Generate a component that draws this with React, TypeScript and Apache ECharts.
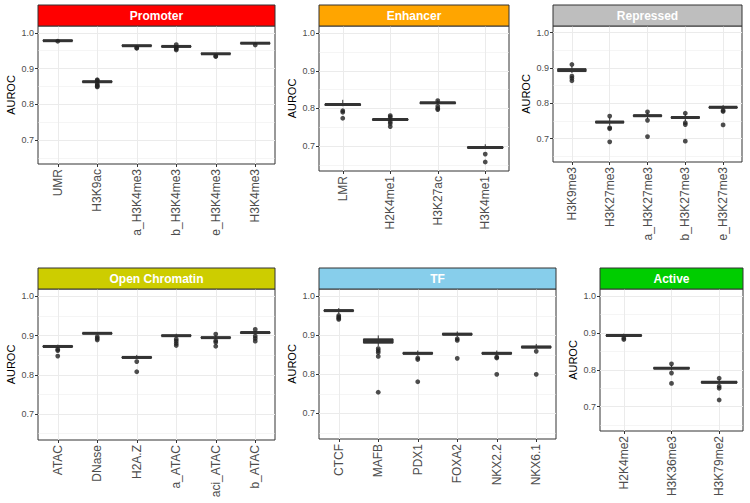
import React, { useEffect, useRef } from "react";
import * as echarts from "echarts";

// ---------- data ----------
const yTicks = [0.7, 0.8, 0.9, 1.0];
const yMinorGrid = [0.65, 0.75, 0.85, 0.95];
const yMin = 0.634;
const yMax = 1.019;

// boxes: [lower whisker, Q1, median, Q3, upper whisker]
const promoterCats = ["UMR", "H3K9ac", "a_H3K4me3", "b_H3K4me3", "e_H3K4me3", "H3K4me3"];
const promoterBoxes = [
  [0.977, 0.977, 0.978, 0.979, 0.979],
  [0.861, 0.862, 0.8635, 0.865, 0.866],
  [0.963, 0.963, 0.964, 0.965, 0.965],
  [0.961, 0.961, 0.962, 0.963, 0.963],
  [0.940, 0.941, 0.9415, 0.942, 0.943],
  [0.970, 0.970, 0.971, 0.972, 0.972],
];
const promoterOutliers = [
  [0.9765],
  [0.869, 0.867, 0.858, 0.854, 0.851, 0.849],
  [0.957, 0.958],
  [0.967, 0.958, 0.955, 0.952],
  [0.934, 0.935],
  [0.966],
];

const enhancerCats = ["LMR", "H2K4me1", "H3K27ac", "H3K4me1"];
const enhancerBoxes = [
  [0.806, 0.808, 0.8105, 0.812, 0.823],
  [0.768, 0.769, 0.771, 0.772, 0.774],
  [0.811, 0.813, 0.815, 0.816, 0.823],
  [0.694, 0.695, 0.6965, 0.698, 0.705],
];
const enhancerOutliers = [
  [0.794, 0.79, 0.774],
  [0.781, 0.777, 0.765, 0.76, 0.752],
  [0.821, 0.806, 0.8, 0.797],
  [0.679, 0.658],
];

const repressedCats = ["H3K9me3", "H3K27me3", "a_H3K27me3", "b_H3K27me3", "e_H3K27me3"];
const repressedBoxes = [
  [0.886, 0.89, 0.894, 0.898, 0.905],
  [0.738, 0.745, 0.747, 0.749, 0.76],
  [0.756, 0.763, 0.765, 0.767, 0.774],
  [0.75, 0.758, 0.76, 0.762, 0.77],
  [0.785, 0.787, 0.789, 0.79, 0.795],
];
const repressedOutliers = [
  [0.91, 0.877, 0.871, 0.864],
  [0.764, 0.731, 0.728, 0.691],
  [0.776, 0.752, 0.706],
  [0.772, 0.745, 0.74, 0.693],
  [0.78, 0.777, 0.739],
];

const openCats = ["ATAC", "DNase", "H2A.Z", "a_ATAC", "aci_ATAC", "b_ATAC"];
const openBoxes = [
  [0.868, 0.871, 0.8725, 0.874, 0.877],
  [0.903, 0.905, 0.906, 0.907, 0.909],
  [0.84, 0.843, 0.8445, 0.846, 0.851],
  [0.896, 0.899, 0.9, 0.901, 0.905],
  [0.89, 0.894, 0.895, 0.896, 0.901],
  [0.903, 0.906, 0.908, 0.909, 0.912],
];
const openOutliers = [
  [0.865, 0.862, 0.848],
  [0.897, 0.893, 0.889],
  [0.834, 0.808],
  [0.891, 0.886, 0.88, 0.875],
  [0.904, 0.887, 0.883, 0.873],
  [0.916, 0.899, 0.893, 0.886],
];

const tfCats = ["CTCF", "MAFB", "PDX1", "FOXA2", "NKX2.2", "NKX6.1"];
const tfBoxes = [
  [0.956, 0.962, 0.9635, 0.965, 0.97],
  [0.872, 0.88, 0.885, 0.891, 0.9],
  [0.848, 0.852, 0.854, 0.856, 0.861],
  [0.896, 0.901, 0.903, 0.905, 0.91],
  [0.848, 0.852, 0.854, 0.856, 0.861],
  [0.865, 0.868, 0.87, 0.872, 0.878],
];
const tfOutliers = [
  [0.951, 0.947, 0.944, 0.941],
  [0.866, 0.861, 0.856, 0.846, 0.754],
  [0.842, 0.838, 0.781],
  [0.891, 0.887, 0.841],
  [0.844, 0.842, 0.8],
  [0.859, 0.8],
];

const activeCats = ["H2K4me2", "H3K36me3", "H3K79me2"];
const activeBoxes = [
  [0.888, 0.892, 0.893, 0.894, 0.898],
  [0.798, 0.803, 0.804, 0.806, 0.812],
  [0.76, 0.764, 0.766, 0.768, 0.775],
];
const activeOutliers = [
  [0.886, 0.882],
  [0.816, 0.791, 0.763],
  [0.777, 0.755, 0.75, 0.718],
];

const panelTitles = ["Promoter", "Enhancer", "Repressed", "Open Chromatin", "TF", "Active"];
const panelCats = [promoterCats, enhancerCats, repressedCats, openCats, tfCats, activeCats];
const panelBoxes = [promoterBoxes, enhancerBoxes, repressedBoxes, openBoxes, tfBoxes, activeBoxes];
const panelOutliers = [promoterOutliers, enhancerOutliers, repressedOutliers, openOutliers, tfOutliers, activeOutliers];

// ---------- styling / layout ----------
const stripColors = ["#FF0000", "#FFA500", "#BEBEBE", "#CDCD00", "#87CEEB", "#00CD00"];
const layouts = [
  { left: 38, top: 26, width: 237, height: 138, stripTop: 5 },
  { left: 319, top: 26, width: 190, height: 145, stripTop: 5 },
  { left: 553, top: 26, width: 189, height: 136, stripTop: 5 },
  { left: 38, top: 289, width: 237, height: 151, stripTop: 268 },
  { left: 319, top: 289, width: 237, height: 150, stripTop: 268 },
  { left: 600, top: 289, width: 143, height: 142, stripTop: 268 },
];
const FONT = "Liberation Sans, Arial, Helvetica, sans-serif";
const DARK = "#333333";

function renderBox(_params: any, api: any) {
  const i = api.value(0);
  const band = api.size([1, 0])[0];
  const w = band * 0.75;
  const pLo = api.coord([i, api.value(1)]);
  const pQ1 = api.coord([i, api.value(2)]);
  const pMed = api.coord([i, api.value(3)]);
  const pQ3 = api.coord([i, api.value(4)]);
  const pHi = api.coord([i, api.value(5)]);
  const cx = pMed[0];
  return {
    type: "group",
    children: [
      {
        type: "line",
        shape: { x1: cx, y1: pLo[1], x2: cx, y2: pHi[1] },
        style: { stroke: DARK, lineWidth: 1 },
      },
      {
        type: "rect",
        shape: { x: cx - w / 2, y: pQ3[1], width: w, height: pQ1[1] - pQ3[1] },
        style: { fill: DARK, stroke: DARK, lineWidth: 1 },
      },
      {
        type: "line",
        shape: { x1: cx - w / 2, y1: pMed[1], x2: cx + w / 2, y2: pMed[1] },
        style: { stroke: DARK, lineWidth: 3 },
      },
    ],
  };
}

function buildOption() {
  const grids: any[] = [];
  const xAxes: any[] = [];
  const yAxes: any[] = [];
  const series: any[] = [];
  const graphics: any[] = [];

  panelTitles.forEach((title, p) => {
    const L = layouts[p];
    const cats = panelCats[p];
    grids.push({
      left: L.left,
      top: L.top,
      width: L.width,
      height: L.height,
      show: true,
      borderColor: DARK,
      borderWidth: 1,
      backgroundColor: "#fff",
      containLabel: false,
    });
    xAxes.push({
      type: "category",
      gridIndex: p,
      data: cats,
      boundaryGap: true,
      axisLine: { show: false },
      axisTick: { show: true, alignWithLabel: true, length: 3, lineStyle: { color: DARK } },
      axisLabel: { rotate: 90, fontSize: 12, color: "#4D4D4D", margin: 5, interval: 0, fontFamily: FONT },
      splitLine: { show: false },
    });
    yAxes.push({
      type: "value",
      gridIndex: p,
      min: yMin,
      max: yMax,
      axisLine: { show: false },
      axisTick: { show: true, length: 3, lineStyle: { color: DARK }, customValues: yTicks },
      axisLabel: {
        customValues: yTicks,
        fontSize: 9,
        color: "#4D4D4D",
        margin: 4,
        fontFamily: FONT,
        formatter: (v: number) => v.toFixed(1),
      },
      splitLine: { show: false },
      name: "AUROC",
      nameLocation: "middle",
      nameGap: 22,
      nameTextStyle: { fontSize: 11, color: "#000", fontFamily: FONT },
    });

    const boxData = panelBoxes[p].map((b, i) => [i, ...b]);
    series.push({
      type: "custom",
      xAxisIndex: p,
      yAxisIndex: p,
      renderItem: renderBox,
      encode: { x: 0, y: [1, 2, 3, 4, 5] },
      data: boxData,
      z: 2,
      silent: true,
    });

    const pts: any[] = [];
    panelOutliers[p].forEach((arr, i) => arr.forEach((v) => pts.push([i, v])));
    series.push({
      type: "scatter",
      xAxisIndex: p,
      yAxisIndex: p,
      data: pts,
      symbol: "circle",
      symbolSize: 4.8,
      itemStyle: { color: "#222" },
      z: 3,
      silent: true,
      markLine: {
        silent: true,
        z: 1,
        symbol: ["none", "none"],
        label: { show: false },
        emphasis: { disabled: true },
        lineStyle: { color: "#EBEBEB", width: 1, type: "solid" },
        data: [
          ...yMinorGrid.map((v) => ({ yAxis: v, lineStyle: { width: 0.5, color: "#EBEBEB", type: "solid" } })),
          ...yTicks.map((v) => ({ yAxis: v })),
          ...cats.map((c) => ({ xAxis: c })),
        ],
      },
    });

    graphics.push({
      type: "rect",
      shape: { x: L.left, y: L.stripTop, width: L.width, height: L.top - L.stripTop },
      style: { fill: stripColors[p], stroke: DARK, lineWidth: 1 },
      z: 10,
    });
    graphics.push({
      type: "text",
      x: L.left + L.width / 2,
      y: (L.stripTop + L.top) / 2,
      style: {
        text: title,
        fill: "#fff",
        font: `bold 12px ${FONT}`,
        textAlign: "center",
        textVerticalAlign: "middle",
      },
      z: 11,
    });
  });

  return {
    animation: false,
    backgroundColor: "#fff",
    textStyle: { fontFamily: FONT },
    grid: grids,
    xAxis: xAxes,
    yAxis: yAxes,
    series,
    graphic: graphics,
  };
}

export default function App() {
  const ref = useRef<HTMLDivElement>(null);
  useEffect(() => {
    if (!ref.current) return;
    const chart = echarts.init(ref.current, undefined, { renderer: "svg" });
    chart.setOption(buildOption() as any);
    return () => chart.dispose();
  }, []);
  return (
    <div
      ref={ref}
      style={{ position: "fixed", left: 0, top: 0, width: 750, height: 503, background: "#fff" }}
    />
  );
}
